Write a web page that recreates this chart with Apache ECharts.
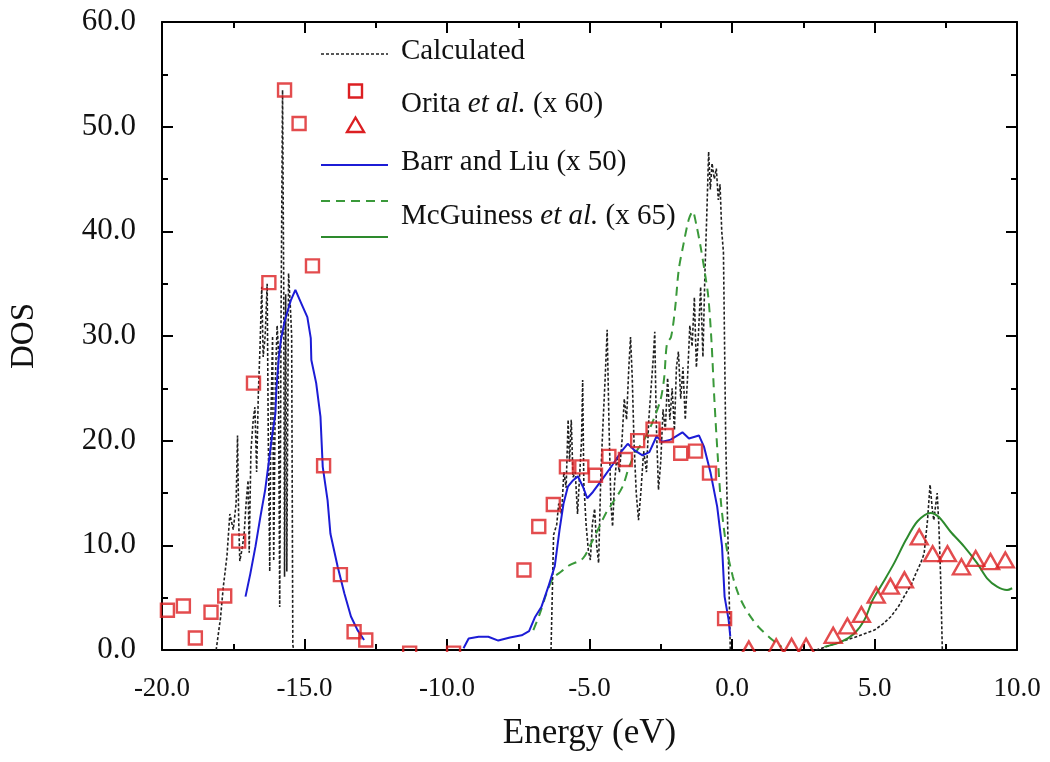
<!DOCTYPE html>
<html>
<head>
<meta charset="utf-8">
<title>DOS</title>
<script src="https://cdn.jsdelivr.net/npm/echarts@6/dist/echarts.min.js"></script>
<style>
  html, body { margin: 0; padding: 0; background: #ffffff; }
  #chart { width: 1050px; height: 762px; }
</style>
</head>
<body>
<div id="chart"></div>
<script>
// Calculated DOS, [energy (eV), DOS]; null breaks the trace between bands
const calculated = [
  [-18.1, 0], [-17.95, 3], [-17.85, 6], [-17.72, 9], [-17.62, 13], [-17.5, 11.5], [-17.4, 14],
  [-17.35, 20.5], [-17.31, 12.5], [-17.27, 8.5], [-17.2, 9.5], [-17.12, 11], [-17.05, 14],
  [-16.98, 16.2], [-16.94, 9.3], [-16.88, 19], [-16.8, 22], [-16.74, 23.2], [-16.68, 17],
  [-16.62, 24.5], [-16.56, 29], [-16.5, 34.7], [-16.45, 28], [-16.38, 30], [-16.31, 35],
  [-16.27, 20], [-16.22, 7.5], [-16.18, 22], [-16.12, 30], [-16.08, 8.5], [-16.02, 26],
  [-15.96, 31], [-15.92, 29], [-15.87, 4.1], [-15.82, 33], [-15.77, 53.5], [-15.73, 35],
  [-15.7, 7], [-15.66, 34], [-15.62, 7.5], [-15.56, 36], [-15.5, 33], [-15.45, 30],
  [-15.41, 0.5], [-15.38, 0],
  [-11, null],
  [-6.35, 0], [-6.3, 6], [-6.26, 11], [-6.15, 12], [-6.08, 14], [-5.98, 13], [-5.9, 17],
  [-5.82, 15.5], [-5.75, 22], [-5.7, 18], [-5.64, 22], [-5.58, 16.5], [-5.5, 17], [-5.42, 13],
  [-5.34, 17], [-5.28, 20], [-5.24, 25.8], [-5.2, 16], [-5.12, 12], [-5.04, 9.5], [-4.97, 8.6],
  [-4.9, 12], [-4.82, 13.5], [-4.75, 10], [-4.68, 8.3], [-4.6, 17], [-4.52, 22], [-4.45, 26],
  [-4.38, 30.6], [-4.32, 22], [-4.25, 14], [-4.19, 11.8], [-4.12, 16], [-4.04, 18.5],
  [-3.95, 17], [-3.86, 20], [-3.78, 24], [-3.7, 22], [-3.62, 27], [-3.56, 29.9], [-3.5, 26],
  [-3.44, 20], [-3.36, 15], [-3.28, 12.4], [-3.2, 15], [-3.1, 19], [-3.0, 17], [-2.92, 22],
  [-2.84, 25], [-2.76, 28], [-2.71, 30.4], [-2.66, 22], [-2.58, 15.3], [-2.5, 18], [-2.42, 23],
  [-2.34, 21], [-2.26, 26], [-2.18, 22], [-2.1, 25], [-2.02, 21], [-1.95, 27], [-1.88, 28.5],
  [-1.8, 24], [-1.72, 27], [-1.64, 22], [-1.56, 26], [-1.48, 31], [-1.4, 29], [-1.32, 33.7],
  [-1.25, 27], [-1.18, 30], [-1.1, 34.7], [-1.02, 28], [-0.95, 36], [-0.88, 42], [-0.82, 47.6],
  [-0.76, 44], [-0.7, 46.5], [-0.62, 45], [-0.55, 46], [-0.48, 43], [-0.42, 44.5], [-0.36, 40],
  [-0.3, 38], [-0.22, 20], [-0.12, 8], [-0.06, 0],
  [1.5, null],
  [2.96, 0], [3.4, 0.4], [3.84, 0.8], [4.4, 1.3], [5.0, 1.9], [5.3, 2.5], [5.58, 3.2],
  [5.85, 4.2], [6.1, 5.4], [6.3, 6.3], [6.45, 7.3], [6.62, 8.3], [6.74, 9.2], [6.86, 12.4],
  [6.95, 15.8], [7.03, 13.4], [7.08, 12.4], [7.2, 15.0], [7.26, 11.8], [7.32, 7.0], [7.38, 0]
];

// Orita et al. (x 60): squares in the valence region, triangles in the conduction region
const oritaSquares = [
  [-19.81, 3.8], [-19.25, 4.2], [-18.83, 1.15], [-18.28, 3.6], [-17.8, 5.16], [-17.31, 10.4],
  [-16.79, 25.5], [-16.25, 35.1], [-15.7, 53.5], [-15.19, 50.3], [-14.72, 36.7], [-14.33, 17.6],
  [-13.74, 7.2], [-13.26, 1.75], [-12.85, 0.96], [-11.31, -0.3], [-9.77, -0.3],
  [-7.3, 7.64], [-6.78, 11.8], [-6.27, 13.9], [-5.81, 17.5], [-5.27, 17.5], [-4.79, 16.7],
  [-4.32, 18.5], [-3.74, 18.2], [-3.31, 20.0], [-2.77, 21.1], [-2.3, 20.5], [-1.8, 18.8],
  [-1.28, 19.0], [-0.79, 16.9], [-0.26, 3.0]
];
const oritaTriangles = [
  [0.59, 0.1], [1.55, 0.3], [2.09, 0.35], [2.6, 0.35], [3.55, 1.4], [4.05, 2.3], [4.54, 3.4],
  [5.06, 5.25], [5.56, 6.1], [6.05, 6.7], [6.57, 10.8], [7.04, 9.2], [7.56, 9.2], [8.05, 7.95],
  [8.55, 8.75], [9.07, 8.45], [9.59, 8.6]
];

// Barr and Liu (x 50)
const barrLiu = [
  [-17.07, 5.1], [-16.9, 7.3], [-16.72, 9.9], [-16.55, 12.7], [-16.38, 15.3], [-16.26, 17.8],
  [-16.14, 20.4], [-16.02, 22.6], [-15.99, 24.8], [-15.9, 28.0], [-15.83, 29.6], [-15.69, 31.5],
  [-15.48, 33.4], [-15.32, 34.4], [-15.11, 33.1], [-14.9, 31.8], [-14.78, 29.8], [-14.76, 27.7],
  [-14.59, 25.5], [-14.44, 22.3], [-14.36, 17.5], [-14.19, 14.3], [-14.09, 11.1], [-13.84, 8.0],
  [-13.6, 5.4], [-13.37, 3.2], [-13.14, 1.9], [-12.91, 0.96],
  [-11, null],
  [-9.42, 0.16], [-9.24, 1.1], [-8.89, 1.27], [-8.55, 1.27], [-8.2, 0.9], [-7.79, 1.2],
  [-7.38, 1.4], [-7.12, 1.8], [-6.92, 3.1], [-6.69, 4.1], [-6.45, 6.0], [-6.22, 8.0],
  [-6.05, 11.5], [-5.91, 14.0], [-5.76, 15.6], [-5.58, 16.2], [-5.41, 16.6], [-5.23, 15.6],
  [-5.08, 14.5], [-4.88, 15.1], [-4.53, 16.4], [-4.19, 17.7], [-3.9, 18.9], [-3.66, 19.7],
  [-3.43, 19.1], [-3.14, 18.6], [-2.9, 18.9], [-2.65, 20.4], [-2.44, 19.9], [-2.15, 20.1],
  [-1.74, 20.8], [-1.51, 20.2], [-1.16, 20.5], [-0.98, 19.4], [-0.75, 16.9], [-0.52, 13.7],
  [-0.35, 9.9], [-0.26, 5.1], [-0.12, 2.9], [-0.06, 1.3]
];

// McGuiness et al. (x 65): valence band (dashed) and conduction band (solid)
const mcguinessValence = [
  [-6.97, 1.9], [-6.74, 3.5], [-6.51, 5.4], [-6.28, 6.85], [-5.99, 7.5], [-5.7, 8.1],
  [-5.23, 8.75], [-4.94, 10.2], [-4.65, 11.8], [-4.42, 13.1], [-4.13, 14.3], [-3.84, 15.6],
  [-3.61, 17.5], [-3.37, 18.9], [-3.08, 20.1], [-2.8, 21.7], [-2.51, 23.9], [-2.38, 26.0],
  [-2.28, 29.3], [-2.14, 29.9], [-1.99, 32.8], [-1.87, 36.3], [-1.7, 38.8], [-1.52, 41.1],
  [-1.38, 41.9], [-1.25, 40.6], [-1.1, 38.5], [-0.95, 36.0], [-0.83, 33.7], [-0.72, 29.5],
  [-0.62, 24.0], [-0.5, 18.5], [-0.38, 13.9], [-0.18, 9.6], [0.03, 7.0], [0.23, 5.3],
  [0.46, 4.0], [0.7, 3.0], [0.93, 2.2], [1.4, 1.0], [1.74, 0.3]
];
const mcguinessConduction = [
  [3.24, 0.3], [3.84, 0.8], [4.3, 1.6], [4.65, 2.9], [4.94, 4.8], [5.29, 6.4], [5.69, 8.3],
  [6.1, 10.5], [6.51, 12.3], [6.97, 13.1], [7.26, 12.7], [7.67, 11.3], [8.14, 9.9], [8.6, 8.3],
  [8.95, 6.85], [9.3, 6.05], [9.65, 5.73], [9.83, 5.9]
];

// Axis ranges and tick spacing
const xRange = [-20, 10];
const xStep = 5;
const yRange = [0, 60];
const yStep = 10;

const RED = '#dc1f22';
const BLUE = '#1c1cd6';
const GREEN_DASH = '#3a993a';
const GREEN = '#2d8a2d';
const CALC = '#202020';
const SERIF = '"Liberation Serif", "DejaVu Serif", serif';

const chart = echarts.init(document.getElementById('chart'), null, { renderer: 'canvas' });

const frameAxis = {
  axisLine: { show: true, onZero: false, lineStyle: { color: '#000', width: 2 } },
  axisTick: { show: true, inside: true, length: 11, lineStyle: { color: '#000', width: 2 } },
  minorTick: { show: true, splitNumber: 2, length: 6, lineStyle: { color: '#000', width: 2 } },
  splitLine: { show: false },
  minorSplitLine: { show: false }
};

// Legend drawn as graphic elements (two symbols for Orita, two line samples for McGuiness)
const legendX1 = 321, legendX2 = 388, legendTextX = 401;
const legendText = (y, rich) => ({
  type: 'text', left: legendTextX, top: y - 17, z: 10,
  style: {
    text: rich, font: '29px ' + SERIF, fill: '#111',
    rich: {
      n: { fontFamily: SERIF, fontSize: 29, fill: '#111' },
      i: { fontFamily: SERIF, fontSize: 29, fontStyle: 'italic', fill: '#111' }
    }
  }
});

const option = {
  animation: false,
  backgroundColor: '#ffffff',
  grid: { left: 157, right: 33, top: 22, bottom: 112, containLabel: false },
  xAxis: [
    Object.assign({
      type: 'value', min: xRange[0], max: xRange[1], interval: xStep, position: 'bottom',
      name: 'Energy (eV)', nameLocation: 'middle', nameGap: 66,
      nameTextStyle: { fontFamily: SERIF, fontSize: 35, color: '#111' },
      axisLabel: {
        show: true, margin: 25, fontFamily: SERIF, fontSize: 27, color: '#111',
        formatter: v => v.toFixed(1)
      }
    }, frameAxis),
    Object.assign({
      type: 'value', min: xRange[0], max: xRange[1], interval: xStep, position: 'top',
      axisLabel: { show: false }
    }, frameAxis)
  ],
  yAxis: [
    Object.assign({
      type: 'value', min: yRange[0], max: yRange[1], interval: yStep, position: 'left',
      name: 'DOS', nameLocation: 'middle', nameGap: 121,
      nameTextStyle: { fontFamily: SERIF, fontSize: 33, color: '#111' },
      axisLabel: {
        show: true, margin: 26, fontFamily: SERIF, fontSize: 31, color: '#111',
        formatter: v => v.toFixed(1)
      }
    }, frameAxis),
    Object.assign({
      type: 'value', min: yRange[0], max: yRange[1], interval: yStep, position: 'right',
      axisLabel: { show: false }
    }, frameAxis)
  ],
  series: [
    {
      name: 'Calculated', type: 'line', data: calculated, showSymbol: false, symbol: 'none',
      connectNulls: false, z: 2,
      lineStyle: { color: CALC, width: 1.6, type: [3, 2] }
    },
    {
      name: 'McGuiness et al. (x 65) valence', type: 'line', data: mcguinessValence,
      showSymbol: false, symbol: 'none', smooth: 0.3, z: 3,
      lineStyle: { color: GREEN_DASH, width: 2, type: [9, 6] }
    },
    {
      name: 'McGuiness et al. (x 65) conduction', type: 'line', data: mcguinessConduction,
      showSymbol: false, symbol: 'none', smooth: 0.3, z: 3,
      lineStyle: { color: GREEN, width: 2 }
    },
    {
      name: 'Barr and Liu (x 50)', type: 'line', data: barrLiu, showSymbol: false, symbol: 'none',
      connectNulls: false, z: 4,
      lineStyle: { color: BLUE, width: 2 }
    },
    {
      name: 'Orita et al. (x 60)', type: 'scatter', data: oritaSquares, symbol: 'rect',
      symbolSize: 13, clip: false, z: 5,
      itemStyle: { color: 'rgba(0,0,0,0)', borderColor: RED, borderWidth: 2.4 }
    },
    {
      name: 'Orita et al. (x 60) conduction', type: 'scatter', data: oritaTriangles,
      symbol: 'triangle', symbolSize: [17, 15], clip: false, z: 5,
      itemStyle: { color: 'rgba(0,0,0,0)', borderColor: RED, borderWidth: 2.4 }
    }
  ],
  graphic: [
    // keeps marks that sit on the baseline from showing below the frame
    { type: 'rect', left: 150, top: 652, z: 20, shape: { width: 880, height: 12 },
      style: { fill: '#ffffff' } },
    { type: 'line', z: 10, shape: { x1: legendX1, y1: 54, x2: legendX2, y2: 54 },
      style: { stroke: CALC, lineWidth: 1.6, lineDash: [3, 2] } },
    { type: 'rect', z: 10, shape: { x: 349, y: 84.5, width: 13, height: 13 },
      style: { fill: 'none', stroke: RED, lineWidth: 2.4 } },
    { type: 'polygon', z: 10, shape: { points: [[355.5, 117.5], [364, 132], [347, 132]] },
      style: { fill: 'none', stroke: RED, lineWidth: 2.4 } },
    { type: 'line', z: 10, shape: { x1: legendX1, y1: 165, x2: legendX2, y2: 165 },
      style: { stroke: BLUE, lineWidth: 2 } },
    { type: 'line', z: 10, shape: { x1: legendX1, y1: 201, x2: legendX2, y2: 201 },
      style: { stroke: GREEN_DASH, lineWidth: 2, lineDash: [9, 6] } },
    { type: 'line', z: 10, shape: { x1: legendX1, y1: 237, x2: legendX2, y2: 237 },
      style: { stroke: GREEN, lineWidth: 2 } },
    legendText(54, '{n|Calculated}'),
    legendText(107, '{n|Orita }{i|et al.}{n| (x 60)}'),
    legendText(165, '{n|Barr and Liu (x 50)}'),
    legendText(219, '{n|McGuiness }{i|et al.}{n| (x 65)}')
  ]
};

chart.setOption(option);
</script>
</body>
</html>
